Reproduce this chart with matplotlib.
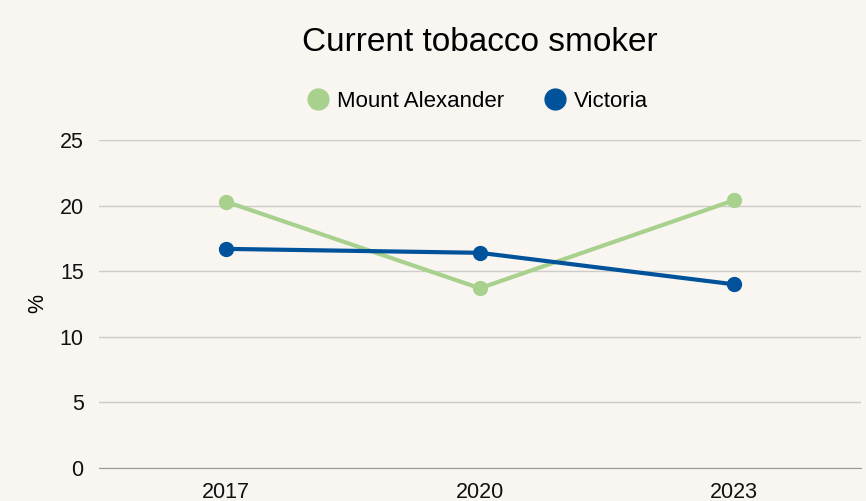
import matplotlib.pyplot as plt
from matplotlib.lines import Line2D

plt.rcParams['font.family'] = ['Liberation Sans', 'DejaVu Sans']

# Data
years = ['2017', '2020', '2023']
mount_alexander = [20.3, 13.7, 20.4]
victoria = [16.7, 16.4, 14.0]

bg = '#f9f6f2'
green = '#a9d18e'
blue = '#00539b'

fig = plt.figure(figsize=(8.66, 5.01), dpi=100, facecolor=bg)
ax = fig.add_axes([0.1143, 0.0659, 0.8797, 0.6547], facecolor=bg)

x = range(len(years))
ax.plot(x, mount_alexander, color=green, lw=3, marker='o', ms=10, zorder=3)
ax.plot(x, victoria, color=blue, lw=3, marker='o', ms=10, zorder=3)

ax.set_xlim(-0.5, len(years) - 0.5)
ax.set_ylim(0, 25)
ax.set_yticks([0, 5, 10, 15, 20, 25])
ax.set_xticks(list(x))
ax.set_xticklabels(years)
ax.grid(axis='y', color='#cfcbc6', lw=1)
ax.set_axisbelow(True)
for s in ['top', 'right', 'left']:
    ax.spines[s].set_visible(False)
ax.spines['bottom'].set_color('#9a9a9a')
ax.tick_params(axis='both', length=0, labelsize=15.5, colors='#111111')
ax.tick_params(axis='y', pad=11)
ax.tick_params(axis='x', pad=10)
ax.set_ylabel('%', fontsize=15.5, labelpad=8)

fig.text(0.554, 0.915, 'Current tobacco smoker', ha='center', va='center', fontsize=24)

handles = [Line2D([], [], color=green, marker='o', ms=15, ls=''),
           Line2D([], [], color=blue, marker='o', ms=15, ls='')]
fig.legend(handles, ['Mount Alexander', 'Victoria'], loc='center', bbox_to_anchor=(0.545, 0.798),
           ncol=2, frameon=False, fontsize=16, handletextpad=-0.15, columnspacing=1.3)

fig.savefig('out.png', dpi=100, facecolor=bg)
